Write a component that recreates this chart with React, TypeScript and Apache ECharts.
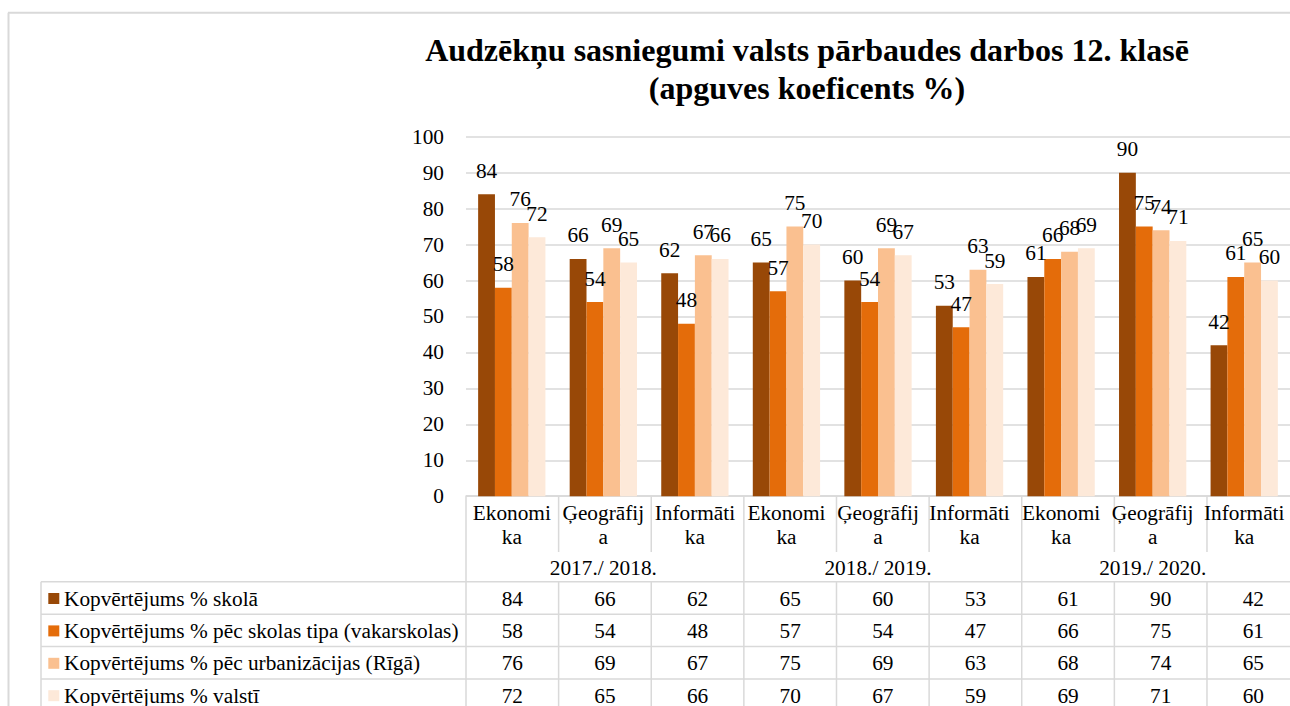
import React, { useEffect, useRef } from "react";
import * as echarts from "echarts";

const years = ["2017./ 2018.", "2018./ 2019.", "2019./ 2020."];
const subjects = ["Ekonomika", "Ģeogrāfija", "Informātika"];
const seriesNames = [
  "Kopvērtējums % skolā",
  "Kopvērtējums % pēc skolas tipa (vakarskolas)",
  "Kopvērtējums % pēc urbanizācijas (Rīgā)",
  "Kopvērtējums % valstī",
];
const skola = [84, 66, 62, 65, 60, 53, 61, 90, 42];
const vakarskolas = [58, 54, 48, 57, 54, 47, 66, 75, 61];
const riga = [76, 69, 67, 75, 69, 63, 68, 74, 65];
const valsti = [72, 65, 66, 70, 67, 59, 69, 71, 60];
const seriesValues = [skola, vakarskolas, riga, valsti];
const colors = ["#984807", "#E46C0A", "#FAC090", "#FDE9D9"];
const titleLines = [
  "Audzēkņu sasniegumi valsts pārbaudes darbos 12. klasē",
  "(apguves koeficents %)",
];

const FONT = "Liberation Serif";
const FS = 21.3;
const LINE = "#d9d9d9";

// character-level wrapping measured with the real font (like the cell wrapping of the source)
function wrapByWidth(text: string, maxWidth: number, font: string): string {
  const ctx = document.createElement("canvas").getContext("2d");
  if (!ctx) return text;
  ctx.font = font;
  const lines: string[] = [];
  let cur = "";
  for (const ch of Array.from(text)) {
    if (cur && ctx.measureText(cur + ch).width > maxWidth) {
      lines.push(cur);
      cur = ch;
    } else {
      cur += ch;
    }
  }
  if (cur) lines.push(cur);
  return lines.join("\n");
}

export default function App() {
  const ref = useRef<HTMLDivElement>(null);
  useEffect(() => {
    if (!ref.current) return;
    const chart = echarts.init(ref.current, undefined, { renderer: "svg" });
    const categories = years.flatMap(() => subjects);
    const GL = 466;
    const GT = 136.7;
    const GW = 833.6;
    const GH = 359.5;
    const axisY = GT + GH;
    const catW = GW / categories.length;
    const tableTop = 581.8;
    const rowH = 32.4;
    const bottom = 706;
    const tableLeft = 41;

    const graphics: any[] = [];
    const ln = (x1: number, y1: number, x2: number, y2: number, w = 1.5) => ({
      type: "line",
      silent: true,
      shape: { x1, y1, x2, y2 },
      style: { stroke: LINE, lineWidth: w },
    });
    const txt = (
      text: string,
      x: number,
      y: number,
      align: string,
      size: number,
      weight: string = "normal"
    ) => ({
      type: "text",
      silent: true,
      x,
      y,
      style: {
        text,
        fontFamily: FONT,
        fontSize: size,
        fontWeight: weight,
        fill: "#000",
        align,
        verticalAlign: "middle",
      },
    });
    // outer chart border
    graphics.push(ln(8, 12.7, 1290, 12.7, 2));
    graphics.push(ln(8.5, 12.7, 8.5, bottom, 2));
    // title
    titleLines.forEach((t, i) => {
      graphics.push(txt(t, 807, 50 + i * 38, "center", 32, "bold"));
    });
    // table verticals
    for (let k = 0; k <= categories.length; k++) {
      const x = GL + k * catW;
      if (k % subjects.length === 0) {
        graphics.push(ln(x, axisY, x, bottom));
      } else {
        graphics.push(ln(x, axisY, x, 552));
        graphics.push(ln(x, tableTop, x, bottom));
      }
    }
    // table horizontals
    for (let r = 0; r < seriesNames.length; r++) {
      const y = tableTop + r * rowH;
      graphics.push(ln(tableLeft, y, GL + GW, y));
    }
    graphics.push(ln(tableLeft, tableTop, tableLeft, bottom));
    // rows
    seriesNames.forEach((name, r) => {
      const cy = tableTop + r * rowH + rowH / 2 + 0.5;
      graphics.push({
        type: "rect",
        silent: true,
        shape: { x: 48.3, y: cy - 5.5, width: 11, height: 11 },
        style: { fill: colors[r] },
      });
      graphics.push(txt(name, 64, cy, "left", FS));
      seriesValues[r].forEach((v, k) => {
        graphics.push(txt(String(v), GL + (k + 0.5) * catW, cy, "center", FS));
      });
    });

    chart.setOption({
      animation: false,
      textStyle: { fontFamily: FONT },
      grid: { left: GL, top: GT, width: GW, height: GH, containLabel: false },
      xAxis: [
        {
          type: "category",
          data: categories,
          axisLine: { show: true, lineStyle: { color: LINE, width: 1.5 } },
          axisTick: { show: false },
          axisLabel: {
            interval: 0,
            lineHeight: 24,
            fontSize: FS,
            fontFamily: FONT,
            color: "#000",
            margin: 5,
            align: "center",
            formatter: (v: string) => wrapByWidth(v, 84, `${FS}px ${FONT}`),
          },
        },
        {
          type: "category",
          data: years,
          position: "bottom",
          axisLine: { show: false },
          axisTick: { show: false },
          axisLabel: {
            interval: 0,
            lineHeight: 24,
            fontSize: FS,
            fontFamily: FONT,
            color: "#000",
            margin: 60,
          },
        },
      ],
      yAxis: {
        type: "value",
        min: 0,
        max: 100,
        interval: 10,
        axisLine: { show: false },
        axisTick: { show: false },
        splitLine: { lineStyle: { color: LINE, width: 1.5 } },
        axisLabel: {
          fontSize: FS,
          fontFamily: FONT,
          color: "#000",
          margin: 22,
        },
      },
      series: seriesNames.map((name, i) => ({
        type: "bar",
        name,
        data: seriesValues[i],
        xAxisIndex: 0,
        barGap: "0%",
        barCategoryGap: "26.5%",
        itemStyle: { color: colors[i] },
        label: {
          show: true,
          position: "top",
          distance: 13,
          fontSize: FS,
          fontFamily: FONT,
          color: "#000",
        },
      })),
      graphic: graphics,
    });
    return () => chart.dispose();
  }, []);
  return (
    <div
      ref={ref}
      style={{ position: "fixed", left: 0, top: 0, width: 1290, height: 706, background: "#fff" }}
    />
  );
}
